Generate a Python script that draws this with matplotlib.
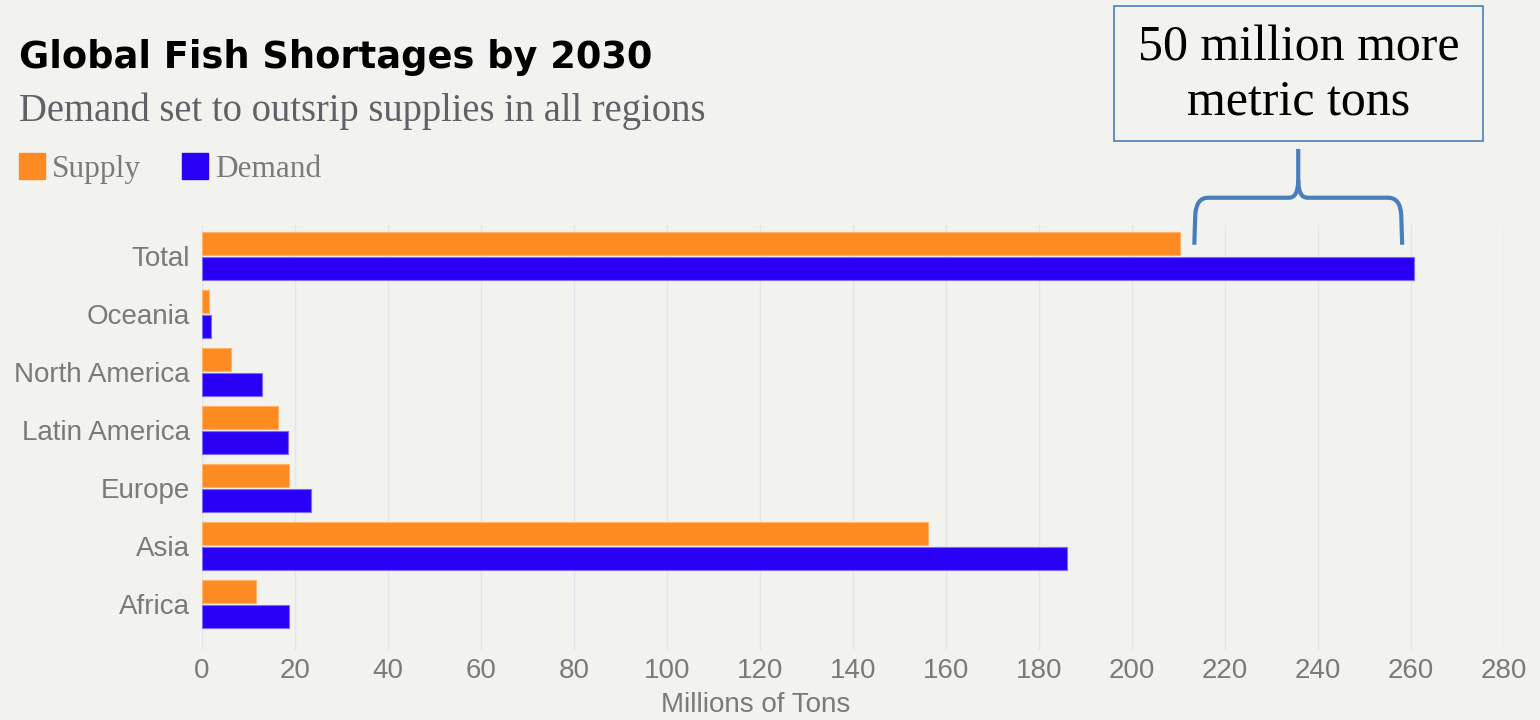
import matplotlib.pyplot as plt
from matplotlib.patches import Rectangle
from matplotlib.path import Path
from matplotlib.patches import PathPatch
import numpy as np

# datos (millones de toneladas)
regiones = ['Africa', 'Asia', 'Europe', 'Latin America', 'North America', 'Oceania', 'Total']
supply = [11.7, 156.2, 18.7, 16.3, 6.3, 1.5, 210.4]
demand = [18.8, 186.0, 23.4, 18.4, 13.0, 1.9, 260.7]
xticks = np.arange(0, 281, 20)

BG = '#F2F2EE'
NARANJA = '#FD8B21'
AZUL = '#2A00F5'
GRIS = '#7A7A7A'

fig = plt.figure(figsize=(15.4, 7.2), dpi=100, facecolor=BG)
ax = fig.add_axes([202 / 1540, 1 - 650 / 720, 1302 / 1540, 425 / 720], facecolor=BG)

y = np.arange(len(regiones))
alto = 0.40
ax.barh(y + 0.215, supply, height=alto, color=NARANJA, edgecolor='#FFB36B', linewidth=0.8, zorder=3)
ax.barh(y - 0.215, demand, height=alto, color=AZUL, edgecolor='#7D6BFF', linewidth=0.8, zorder=3)

ax.set_xlim(0, 280)
ax.set_ylim(-0.79, 6.53)
ax.set_xticks(xticks)
ax.set_yticks(y)
ax.set_yticklabels(regiones)
ax.tick_params(axis='both', length=0, labelcolor=GRIS, labelsize=20)
ax.tick_params(axis='y', pad=8.6)
ax.tick_params(axis='x', pad=5.5)
for lab in ax.get_xticklabels() + ax.get_yticklabels():
    lab.set_family('Liberation Sans')
ax.grid(axis='x', color='#E4E4EA', linewidth=1, zorder=0)
ax.grid(axis='y', visible=False)
for s in ax.spines.values():
    s.set_visible(False)

fig.text(756 / 1540, 1 - 705 / 720, 'Millions of Tons', ha='center', va='center',
         fontsize=20, color=GRIS, family='Liberation Sans')

# titulo y subtitulo
fig.text(19 / 1540, 1 - 68 / 720, 'Global Fish Shortages by 2030', ha='left', va='baseline',
         fontsize=26.5, fontweight='bold', color='black', family='DejaVu Sans')
fig.text(19 / 1540, 1 - 120.5 / 720, 'Demand set to outsrip supplies in all regions', ha='left',
         va='baseline', fontsize=27.8, color='#5F6166', family='Liberation Serif')

# leyenda
for x0, col, txt, xt in [(19, NARANJA, 'Supply', 52), (182, AZUL, 'Demand', 215)]:
    fig.patches.append(Rectangle((x0 / 1540, 1 - 179 / 720), 26 / 1540, 26 / 720,
                                 transform=fig.transFigure, color=col))
    fig.text(xt / 1540, 1 - 177 / 720, txt, ha='left', va='baseline', fontsize=22.5,
             color=GRIS, family='Liberation Serif')

# llave sobre la diferencia del total
azul_llave = '#4A7EBB'
x0 = supply[-1] + 3
x1 = demand[-1] - 2.6
xc = (x0 + x1) / 2
yb, yh, yt = 6.19, 7.0, 7.84
verts = [(x0, yb), (x0 + 0.2, yh - 0.3), (x0 + 0.4, yh), (x0 + 3.0, yh), (xc - 2.0, yh), (xc, yh), (xc, yh + 0.3), (xc, yt),
         (x1, yb), (x1 - 0.2, yh - 0.3), (x1 - 0.4, yh), (x1 - 3.0, yh), (xc + 2.0, yh), (xc, yh), (xc, yh + 0.3)]
codes = [Path.MOVETO, Path.LINETO, Path.CURVE3, Path.CURVE3, Path.LINETO, Path.CURVE3, Path.CURVE3, Path.LINETO,
         Path.MOVETO, Path.LINETO, Path.CURVE3, Path.CURVE3, Path.LINETO, Path.CURVE3, Path.CURVE3]
ax.add_patch(PathPatch(Path(verts, codes), facecolor='none', edgecolor=azul_llave,
                       linewidth=3, clip_on=False, zorder=4, capstyle='butt', joinstyle='round'))

# caja de anotacion
fig.patches.append(Rectangle((1114 / 1540, 1 - 141 / 720), 369 / 1540, 135 / 720,
                             transform=fig.transFigure, facecolor=BG, edgecolor=azul_llave, linewidth=1.2))
fig.text(1298.5 / 1540, 1 - 75 / 720, '50 million more\nmetric tons', ha='center', va='center',
         fontsize=36, color='black', family='Liberation Serif', linespacing=1.22)

plt.savefig('out.png', dpi=100, facecolor=BG)
